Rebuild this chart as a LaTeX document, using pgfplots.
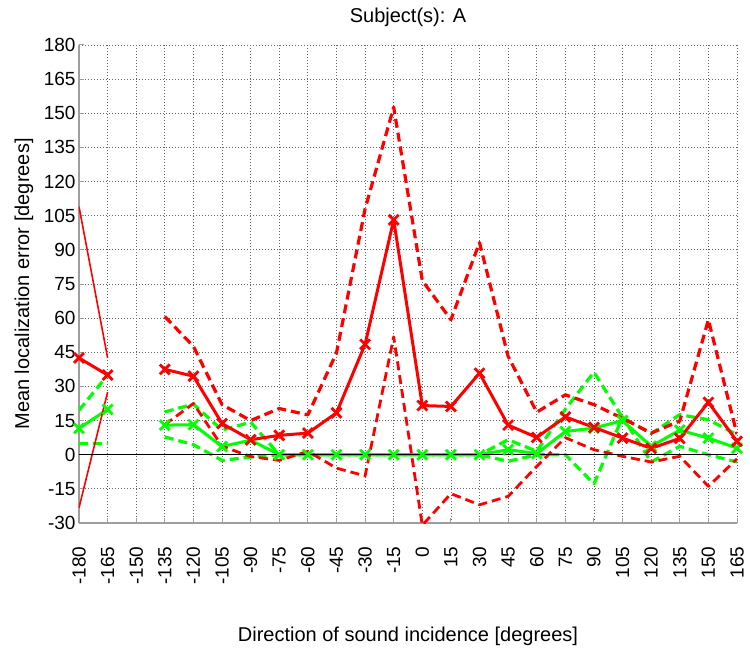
\documentclass[border=0pt]{standalone}
\usepackage{pgfplots}
\pgfplotsset{compat=1.18}
\usepackage{fontspec}
\setmainfont{Liberation Sans}
\definecolor{mred}{RGB}{255,0,0}
\definecolor{mgreen}{RGB}{0,255,0}
\begin{document}
\begin{tikzpicture}
\path[use as bounding box] (-79pt,-131pt) rectangle (671pt,523pt);
\begin{axis}[
  at={(0pt,0pt)}, anchor=south west,
  scale only axis, width=658pt, height=478pt,
  xmin=-180, xmax=165, ymin=-30, ymax=180,
  xtick={-180,-165,...,165}, ytick={-30,-15,...,180},
  axis x line=bottom, axis y line=left,
  axis line style={-, draw=black!38, line width=1.8pt},
  tick align=inside, major tick length=5pt,
  tick style={draw=black!38, line width=1pt},
  grid=major,
  major grid style={draw=black!60, line width=0.8pt, dash pattern=on 0.8pt off 2.2pt},
  font=\fontsize{19}{22}\selectfont,
  ticklabel style={font=\fontsize{19}{22}\selectfont},
  xticklabel style={rotate=90, anchor=east},
  xticklabel shift=20pt,
  /pgf/number format/assume math mode=true,
  title={Subject(s): A},
  title style={font=\fontsize{20}{24}\selectfont, at={(axis description cs:0.5,1)}, anchor=base, yshift=16pt},
  xlabel={Direction of sound incidence [degrees]},
  xlabel style={font=\fontsize{20}{24}\selectfont, at={(axis description cs:0.5,-0.2364)}, anchor=center},
  ylabel={Mean localization error [degrees]},
  ylabel style={font=\fontsize{20}{24}\selectfont, at={(axis description cs:-0.0836,0.5)}, anchor=center},
  every axis plot/.append style={line join=round},
]
% ---------- green (bounds) ----------
\addplot[mgreen, line width=3.2pt, dash pattern=on 9pt off 5pt] coordinates {(-180,19.5) (-165,35)};
\addplot[mgreen, line width=3.2pt, dash pattern=on 9pt off 5pt] coordinates {(-180,5.1) (-165,5.1)};
\addplot[mgreen, line width=3.2pt, dash pattern=on 9pt off 5pt] coordinates {
(-135,18.8) (-120,22.2) (-105,10.8) (-90,14.3) (-75,0) (-60,0) (-45,0) (-30,0) (-15,0) (0,0) (15,0) (30,0)
(45,6.6) (60,1.5) (75,20) (90,36.3) (105,16.3) (120,9.3) (135,17.6) (150,15.4) (165,8.8)};
\addplot[mgreen, line width=3.2pt, dash pattern=on 9pt off 5pt] coordinates {
(-135,7.8) (-120,4.4) (-105,-2.5) (-90,-1) (-75,0) (-60,0) (-45,0) (-30,0) (-15,0) (0,0) (15,0) (30,0)
(45,-2.9) (60,0) (75,0) (90,-12.8) (105,16.5) (120,-3.2) (135,3.7) (150,0) (165,-3.2)};
% ---------- green (mean) ----------
\addplot[mgreen, line width=3pt, mark=x, mark size=7pt, mark options={solid, line width=2.8pt}] coordinates {(-180,11.6) (-165,19.9)};
\addplot[mgreen, line width=3pt, mark=x, mark size=7pt, mark options={solid, line width=2.8pt}] coordinates {
(-135,13) (-120,13.2) (-105,3.6) (-90,6.4) (-75,0) (-60,0) (-45,0) (-30,0) (-15,0) (0,0) (15,0) (30,0)
(45,2.2) (60,0.5) (75,10.2) (90,11.7) (105,15) (120,3.7) (135,10.8) (150,7.3) (165,2.9)};
% ---------- red (bounds) ----------
\addplot[mred, line width=1.6pt] coordinates {(-180,109) (-165,42.6)};
\addplot[mred, line width=1.6pt] coordinates {(-180,-23.3) (-165,27.5)};
\addplot[mred, line width=3.2pt, dash pattern=on 9pt off 5pt] coordinates {
(-135,60.7) (-120,47.6) (-105,22) (-90,15) (-75,20.3) (-60,17.5) (-45,44.7) (-30,108) (-15,152.7) (0,76.5)
(15,59.3) (30,93.2) (45,43.2) (60,18.7) (75,26.3) (90,22) (105,16) (120,9.5) (135,14.8) (150,59.3) (165,9)};
\addplot[mred, line width=2.8pt, dash pattern=on 9pt off 5pt] coordinates {
(-135,13.2) (-120,22.5) (-105,3.7) (-90,-0.8) (-75,-2.5) (-60,1.5) (-45,-5.9) (-30,-9.3) (-15,51.8) (0,-31)
(15,-17.1) (30,-22) (45,-18.3) (60,-5.1) (75,7.5) (90,2.2) (105,-0.7) (120,-3.2) (135,-0.7) (150,-13.9) (165,-1.8)};
% ---------- red (mean) ----------
\addplot[mred, line width=3pt, mark=x, mark size=7pt, mark options={solid, line width=2.8pt}] coordinates {(-180,42.5) (-165,35)};
\addplot[mred, line width=3pt, mark=x, mark size=7pt, mark options={solid, line width=2.8pt}] coordinates {
(-135,37.5) (-120,34.5) (-105,13.7) (-90,6.6) (-75,8.5) (-60,9.5) (-45,18.4) (-30,48.5) (-15,103.2) (0,21.6)
(15,21.2) (30,35.8) (45,13) (60,7.6) (75,16.6) (90,12) (105,7.3) (120,2.8) (135,7.2) (150,23) (165,5.9)};
% ---------- zero line ----------
\addplot[black, line width=0.9pt] coordinates {(-180,0) (165,0)};
\end{axis}
\end{tikzpicture}
\end{document}
